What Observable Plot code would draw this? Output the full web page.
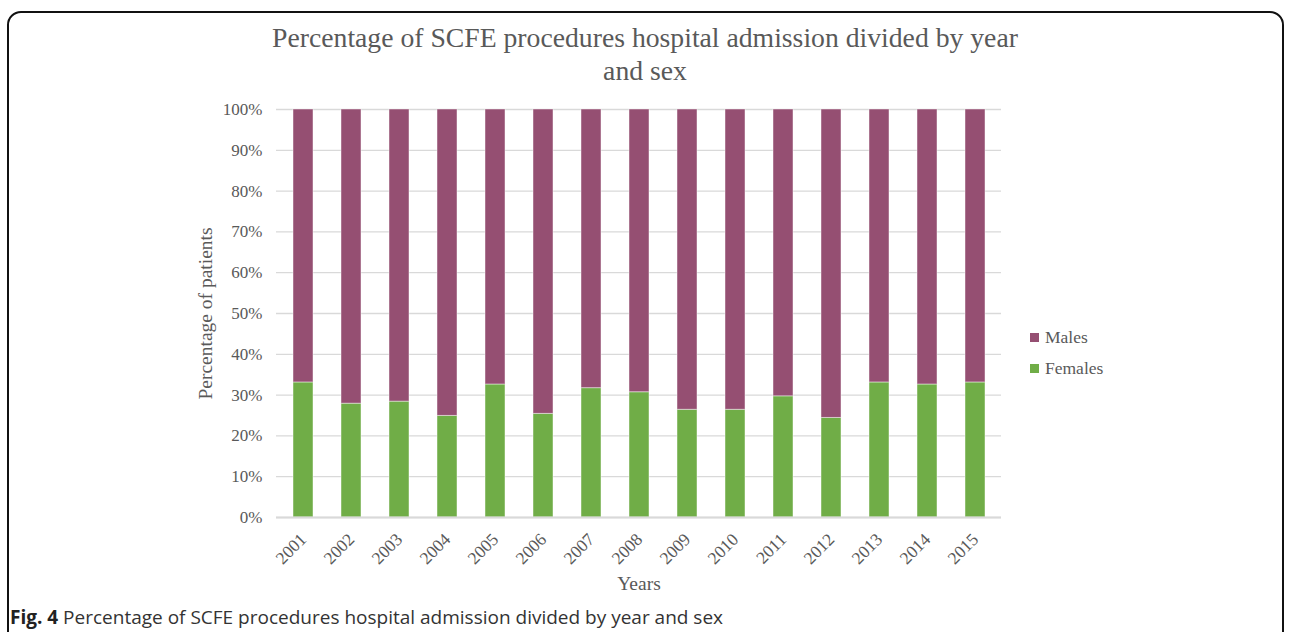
<!DOCTYPE html>
<html>
<head>
<meta charset="utf-8">
<script src="https://cdn.jsdelivr.net/npm/d3@7"></script>
<script src="https://cdn.jsdelivr.net/npm/@observablehq/plot@0.6"></script>
<style>
  html, body { margin: 0; padding: 0; width: 1290px; height: 632px; overflow: hidden; background: #fff; }
  #frame { position: absolute; left: 7px; top: 11px; width: 1277px; height: 700px; border: 2px solid #111; border-radius: 14px; box-sizing: border-box; }
  #title { position: absolute; left: 0; width: 1290px; top: 21px; text-align: center; font-family: "Liberation Serif", serif; font-size: 27.7px; line-height: 33px; color: #595959; }
  #chart { position: absolute; left: 0; top: 0; }
  #legend { position: absolute; left: 1030px; top: 326px; font-family: "Liberation Serif", serif; font-size: 17.5px; color: #595959; }
  #legend div { height: 31px; line-height: 22px; }
  #legend span.sw { display: inline-block; width: 9px; height: 9px; margin-right: 6px; vertical-align: 1px; }
  #caption { position: absolute; left: 10px; top: 604px; font-family: "Open Sans", sans-serif; font-size: 19px; color: #333; white-space: nowrap; }
  #caption b { color: #222; }
  #chart svg g[aria-label="y-axis label"] text, #chart svg g[aria-label="x-axis label"] text { font-size: 19.5px; }
</style>
</head>
<body>
<div id="frame"></div>
<div id="title">Percentage of SCFE procedures hospital admission divided by year<br>and sex</div>
<div id="chart"></div>
<div id="legend"></div>
<div id="caption"><b>Fig. 4</b> Percentage of SCFE procedures hospital admission divided by year and sex</div>
<script>
const years = ["2001","2002","2003","2004","2005","2006","2007","2008","2009","2010","2011","2012","2013","2014","2015"];
const females = [33.1, 27.9, 28.4, 24.9, 32.6, 25.4, 31.7, 30.7, 26.4, 26.4, 29.7, 24.4, 33.1, 32.6, 33.1];
const males = females.map(f => 100 - f);
const seriesNames = ["Females", "Males"];
const seriesColors = ["#70AD47", "#954F72"];
const yTicks = [0,10,20,30,40,50,60,70,80,90,100];

const rows = [];
years.forEach((y, i) => {
  rows.push({year: y, sex: "Females", value: females[i]});
  rows.push({year: y, sex: "Males", value: males[i]});
});

const chart = Plot.plot({
  width: 1290,
  height: 632,
  marginLeft: 276,
  marginRight: 289,
  marginTop: 109,
  marginBottom: 115,
  style: { fontFamily: "Liberation Serif, serif", fontSize: "17px", color: "#595959", background: "transparent" },
  x: { domain: years, paddingInner: 0.59, paddingOuter: 0.295, label: null },
  y: { domain: [0, 100], label: null },
  color: { domain: seriesNames, range: seriesColors },
  marks: [
    Plot.gridY(yTicks, { stroke: "#d9d9d9", strokeOpacity: 1, strokeWidth: 1.3 }),
    Plot.barY(rows, { x: "year", y: "value", fill: "sex", order: seriesNames, stroke: "#ffffff", strokeOpacity: 0.45, strokeWidth: 1 }),
    Plot.ruleY([0], { stroke: "#d9d9d9", strokeWidth: 2 }),
    Plot.axisY(yTicks, { tickSize: 0, tickPadding: 14, tickFormat: d => d + "%", fontSize: 17, label: "Percentage of patients", labelAnchor: "center", labelOffset: 78, labelArrow: "none" }),
    Plot.axisX({ tickSize: 0, tickRotate: -45, tickPadding: 19, fontSize: 17.5, label: "Years", labelAnchor: "center", labelOffset: 72, labelArrow: "none" })
  ]
});
document.getElementById("chart").appendChild(chart);

const legend = document.getElementById("legend");
["Males", "Females"].forEach(name => {
  const d = document.createElement("div");
  const c = seriesColors[seriesNames.indexOf(name)];
  d.innerHTML = `<span class="sw" style="background:${c}"></span>${name}`;
  legend.appendChild(d);
});
</script>
</body>
</html>
